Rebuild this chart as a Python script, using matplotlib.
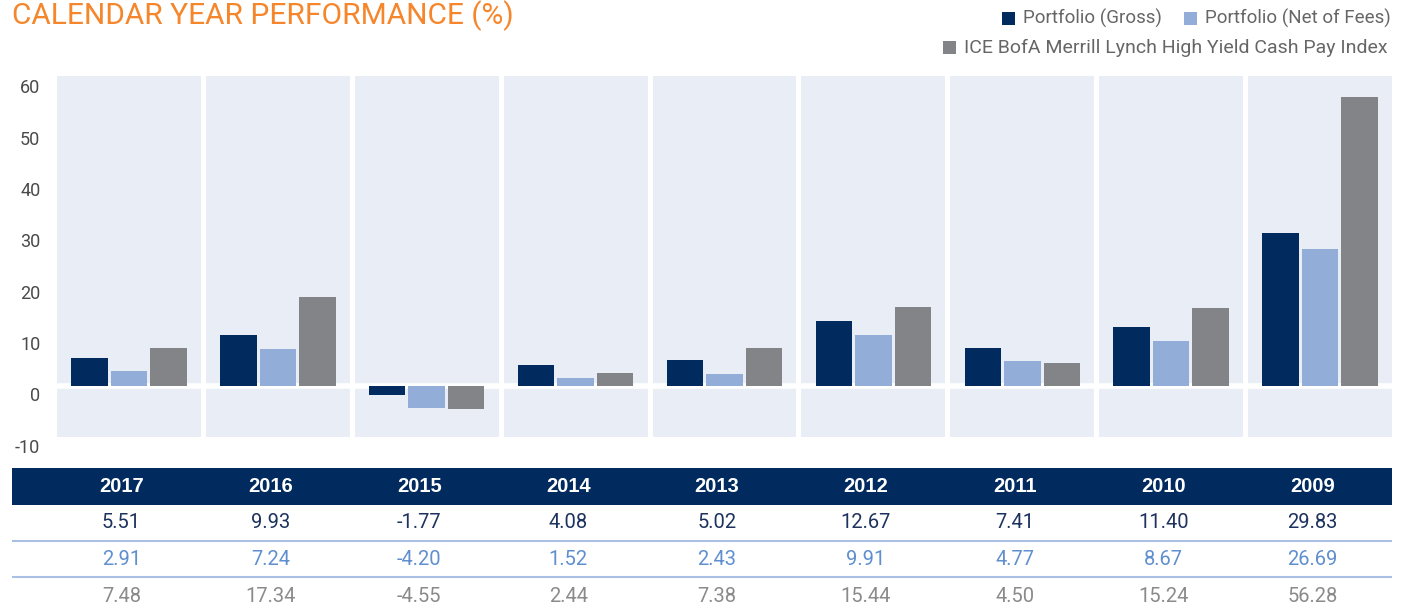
import matplotlib
matplotlib.use("Agg")
import numpy as np
import matplotlib.pyplot as plt
from matplotlib.patches import Rectangle
from matplotlib.transforms import ScaledTranslation

plt.rcParams["font.family"] = ["Roboto", "Liberation Sans", "DejaVu Sans"]

# --- Daten ---
years = ["2017", "2016", "2015", "2014", "2013", "2012", "2011", "2010", "2009"]
gross = [5.51, 9.93, -1.77, 4.08, 5.02, 12.67, 7.41, 11.40, 29.83]
net = [2.91, 7.24, -4.20, 1.52, 2.43, 9.91, 4.77, 8.67, 26.69]
index = [7.48, 17.34, -4.55, 2.44, 7.38, 15.44, 4.50, 15.24, 56.28]
series_names = ["Portfolio (Gross)", "Portfolio (Net of Fees)",
                "ICE BofA Merrill Lynch High Yield Cash Pay Index"]
yticks = [60, 50, 40, 30, 20, 10, 0, -10]

NAVY = "#012B5E"
LIGHT = "#92AED8"
GREY = "#838488"
PANEL = "#E9EDF6"
ORANGE = "#F5862B"
TXT = "#666666"

W, H = 1403, 610
fig = plt.figure(figsize=(W / 100, H / 100), dpi=100)

# --- Balkendiagramm ---
ax_l, ax_r, ax_top, ax_bot = 57, 1392, 76, 437.3
ax = fig.add_axes([ax_l / W, (H - ax_bot) / H, (ax_r - ax_l) / W, (ax_bot - ax_top) / H])
n = len(years)
x = np.arange(n)
g = 0.017
for i in x:
    ax.axvspan(i - 0.5 + g, i + 0.5 - g, color=PANEL, lw=0, zorder=0)
ax.axhline(0, color="white", lw=4, zorder=1)

bw, off = 0.245, 0.265
ax.bar(x - off, gross, bw, color=NAVY, zorder=2)
ax.bar(x, net, bw, color=LIGHT, zorder=2)
ax.bar(x + off, index, bw, color=GREY, zorder=2)

ax.set_xlim(-0.5 + g, n - 0.5 - g)
ax.set_ylim(-10, 60.4)
ax.set_yticks(yticks)
ax.set_yticklabels([str(v) for v in yticks], fontsize=13, color="#4A4A4A")
ax.tick_params(axis="y", length=0, pad=12)
for lbl in ax.get_yticklabels():
    lbl.set_transform(lbl.get_transform() + ScaledTranslation(0, -6 / 72, fig.dpi_scale_trans))
ax.set_xticks([])
for s in ax.spines.values():
    s.set_visible(False)

# --- Titel ---
fig.text(12 / W, (H - 24) / H, "CALENDAR YEAR PERFORMANCE (%)", color=ORANGE,
         fontsize=21.5, va="baseline", ha="left")

# --- Legende (manuell, rechtsbündig) ---
def legend_item(x_right, y_mid, color, label, fs=14):
    t = fig.text(x_right / W, (H - y_mid) / H, label, fontsize=fs, color=TXT,
                 ha="right", va="center")
    fig.canvas.draw()
    bb = t.get_window_extent()
    sq = 13
    fig.patches.append(Rectangle(((bb.x0 - 8 - sq) / W, (H - y_mid - sq / 2) / H),
                                 sq / W, sq / H, transform=fig.transFigure,
                                 color=color, lw=0))
    return bb.x0 - 8 - sq

x_next = legend_item(1391, 18.5, LIGHT, series_names[1], 13.5)
legend_item(x_next - 22, 18.5, NAVY, series_names[0], 13.5)
legend_item(1387, 47.5, GREY, series_names[2])

# --- Tabelle ---
ppu = (ax_r - ax_l) / (n - 2 * g)
t_left = 12
ax_t = fig.add_axes([t_left / W, 0, (ax_r - t_left) / W, (H - 467) / H])
ax_t.set_xlim(-0.5 + g - (ax_l - t_left) / ppu, n - 0.5 - g)
ax_t.set_ylim(H, 467)
ax_t.axis("off")
ax_t.axhspan(467.5, 504.5, color=NAVY, lw=0)
for y_sep in [540.5, 577]:
    ax_t.axhline(y_sep, color="#A9C0E4", lw=1.5)

rows = [(gross, "#1C335E", 523), (net, "#5F8FCF", 559.5), (index, "#8A8A8A", 596)]
for i, yr in enumerate(years):
    xc = i - 0.05
    ax_t.text(xc, 486, yr, color="white", fontsize=14.5, fontweight="bold",
              ha="center", va="center", family=["Liberation Sans", "DejaVu Sans"])
    for vals, col, yy in rows:
        ax_t.text(xc, yy, f"{vals[i]:.2f}", color=col, fontsize=14.5,
                  ha="center", va="center")

fig.savefig("out.png", dpi=100)
